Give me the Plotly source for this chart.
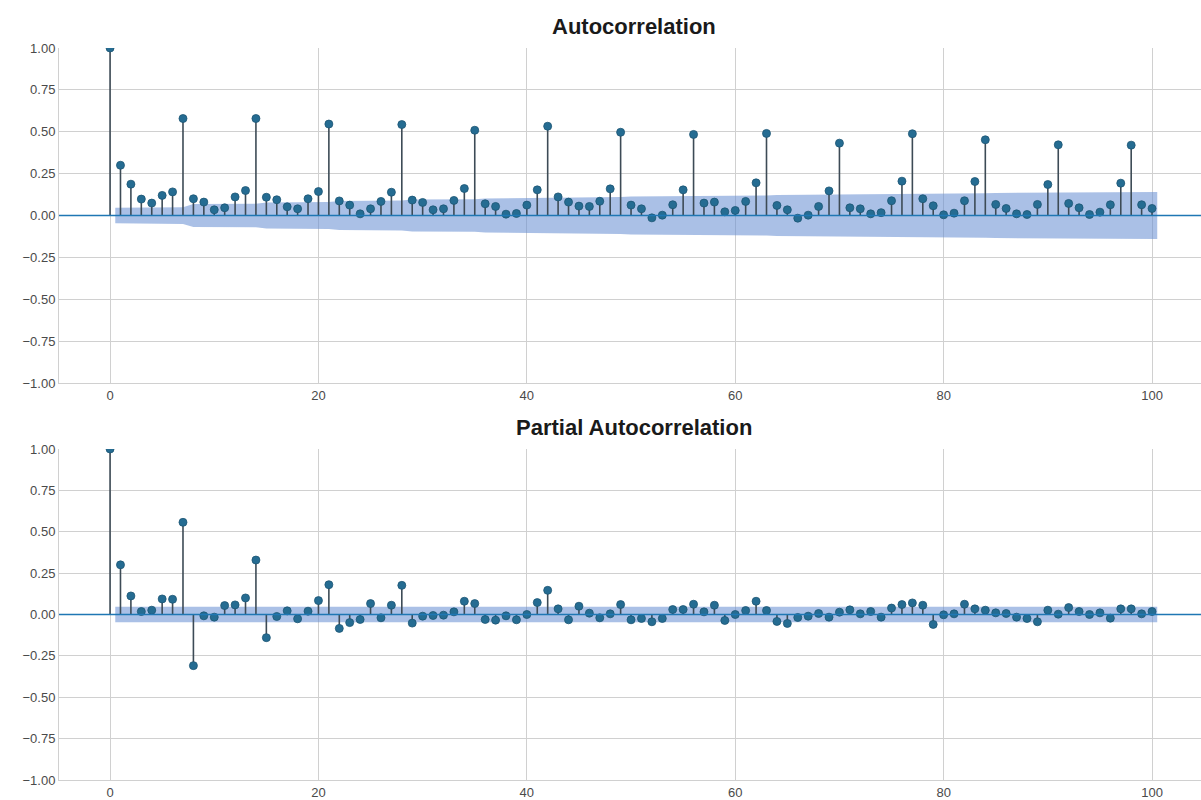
import plotly.graph_objects as go
from plotly.subplots import make_subplots

LAGS = list(range(101))

ACF = [1.0, 0.30, 0.187, 0.098, 0.074, 0.12, 0.141, 0.579, 0.10, 0.08,
       0.034, 0.046, 0.111, 0.149, 0.579, 0.109, 0.094, 0.052, 0.04, 0.10,
       0.143, 0.546, 0.087, 0.062, 0.01, 0.04, 0.084, 0.139, 0.543, 0.092,
       0.078, 0.034, 0.04, 0.09, 0.161, 0.509, 0.07, 0.054, 0.008, 0.012,
       0.062, 0.153, 0.533, 0.111, 0.08, 0.056, 0.054, 0.085, 0.159, 0.497,
       0.062, 0.04, -0.014, 0.002, 0.064, 0.153, 0.484, 0.074, 0.08, 0.022,
       0.03, 0.084, 0.195, 0.49, 0.06, 0.034, -0.016, 0.002, 0.054, 0.147,
       0.432, 0.046, 0.04, 0.01, 0.017, 0.088, 0.205, 0.488, 0.1, 0.058,
       0.004, 0.014, 0.088, 0.203, 0.452, 0.066, 0.042, 0.01, 0.006, 0.066,
       0.185, 0.422, 0.072, 0.046, 0.006, 0.02, 0.064, 0.193, 0.42, 0.064,
       0.042]

PACF = [1.0, 0.30, 0.112, 0.018, 0.026, 0.094, 0.092, 0.557, -0.309, -0.008,
        -0.016, 0.054, 0.058, 0.10, 0.329, -0.14, -0.012, 0.022, -0.026, 0.02,
        0.084, 0.18, -0.084, -0.049, -0.03, 0.066, -0.02, 0.056, 0.176, -0.052,
        -0.01, -0.006, -0.004, 0.016, 0.08, 0.066, -0.03, -0.034, -0.008, -0.032,
        0.0, 0.072, 0.146, 0.034, -0.032, 0.05, 0.008, -0.02, 0.004, 0.06,
        -0.032, -0.024, -0.044, -0.024, 0.03, 0.03, 0.062, 0.016, 0.056, -0.036,
        0.0, 0.024, 0.08, 0.024, -0.042, -0.054, -0.018, -0.01, 0.006, -0.016,
        0.014, 0.028, 0.004, 0.018, -0.016, 0.039, 0.06, 0.07, 0.056, -0.06,
        -0.002, 0.004, 0.062, 0.034, 0.026, 0.01, 0.006, -0.016, -0.024, -0.044,
        0.026, 0.002, 0.042, 0.018, 0.0, 0.01, -0.022, 0.034, 0.034, 0.004,
        0.018]

# confidence band half-widths
ACF_BAND_LAGS = [0.5, 7, 8, 14, 15, 21, 22, 28, 29, 35, 36, 42, 43, 49, 50,
                 56, 57, 63, 64, 70, 71, 77, 78, 84, 85, 91, 92, 98, 100.5]
ACF_BAND_HALF = [0.047, 0.050, 0.068, 0.070, 0.078, 0.080, 0.087, 0.089, 0.095,
                 0.097, 0.102, 0.104, 0.108, 0.110, 0.113, 0.115, 0.118, 0.120,
                 0.123, 0.125, 0.127, 0.129, 0.132, 0.133, 0.135, 0.137, 0.138,
                 0.139, 0.141]
PACF_BAND_LAGS = [0.5, 100.5]
PACF_BAND_HALF = [0.047, 0.047]

TITLES = ["Autocorrelation", "Partial Autocorrelation"]
Y_TICKS = [1.0, 0.75, 0.5, 0.25, 0.0, -0.25, -0.5, -0.75, -1.0]
X_TICKS = [0, 20, 40, 60, 80, 100]

STEM = "#3d4b56"
MARK = "#256c92"
BAND = "rgba(100,140,210,0.55)"
ZERO = "#1f77b4"

fig = make_subplots(rows=2, cols=1)

def add_panel(values, band_lags, band_half, row):
    lo = [-h for h in band_half]
    fig.add_trace(go.Scatter(x=band_lags, y=lo, mode="lines", line=dict(width=0),
                             hoverinfo="skip", showlegend=False), row=row, col=1)
    fig.add_trace(go.Scatter(x=band_lags, y=band_half, mode="lines", line=dict(width=0),
                             fill="tonexty", fillcolor=BAND, hoverinfo="skip",
                             showlegend=False), row=row, col=1)
    sx, sy = [], []
    for l, v in zip(LAGS, values):
        sx += [l, l, None]
        sy += [0, v, None]
    fig.add_trace(go.Scatter(x=sx, y=sy, mode="lines", line=dict(color=STEM, width=1.6),
                             hoverinfo="skip", showlegend=False), row=row, col=1)
    fig.add_hline(y=0, line_color=ZERO, line_width=1.6, row=row, col=1)
    fig.add_trace(go.Scatter(x=LAGS, y=values, mode="markers", cliponaxis=True,
                             marker=dict(color=MARK, size=8, line=dict(color="#1d5574", width=0.8)),
                             showlegend=False), row=row, col=1)

add_panel(ACF, ACF_BAND_LAGS, ACF_BAND_HALF, 1)
add_panel(PACF, PACF_BAND_LAGS, PACF_BAND_HALF, 2)

W, H = 1201, 800
BOTTOM = 780
ml, mr, mt, mb = 59, 0, 48, H - BOTTOM
ph = H - mt - mb
top_dom = [(BOTTOM - 383) / ph, 1.0]
bot_dom = [0.0, (BOTTOM - 449) / ph]

axis_common = dict(showgrid=True, gridcolor="#d0d0d0", gridwidth=1, zeroline=False,
                   showline=True, linecolor="#d0d0d0", linewidth=1, ticks="",
                   automargin=False,
                   tickfont=dict(family="Liberation Sans, Arial, sans-serif", size=13, color="#4a4a4a"))

fig.update_layout(
    width=W, height=H, margin=dict(l=ml, r=mr, t=mt, b=mb, autoexpand=False),
    plot_bgcolor="white", paper_bgcolor="white", showlegend=False,
    xaxis=dict(domain=[0, 1], range=[-4.9, 104.7], tickvals=X_TICKS, **axis_common),
    xaxis2=dict(domain=[0, 1], range=[-4.9, 104.7], tickvals=X_TICKS, **axis_common),
    yaxis=dict(domain=top_dom, range=[-1, 1], tickvals=Y_TICKS, tickformat=".2f", **axis_common),
    yaxis2=dict(domain=bot_dom, range=[-1, 1], tickvals=Y_TICKS, tickformat=".2f", **axis_common),
)

title_font = dict(family="Liberation Sans, Arial, sans-serif", size=22, color="#1a1a1a")
fig.add_annotation(text="<b>%s</b>" % TITLES[0], xref="paper", yref="paper",
                   x=(634 - ml) / (W - ml - mr), y=(BOTTOM - 27) / ph, xanchor="center",
                   yanchor="middle", showarrow=False, font=title_font)
fig.add_annotation(text="<b>%s</b>" % TITLES[1], xref="paper", yref="paper",
                   x=(634 - ml) / (W - ml - mr), y=(BOTTOM - 427) / ph, xanchor="center",
                   yanchor="middle", showarrow=False, font=title_font)

fig.write_html("out.html")
